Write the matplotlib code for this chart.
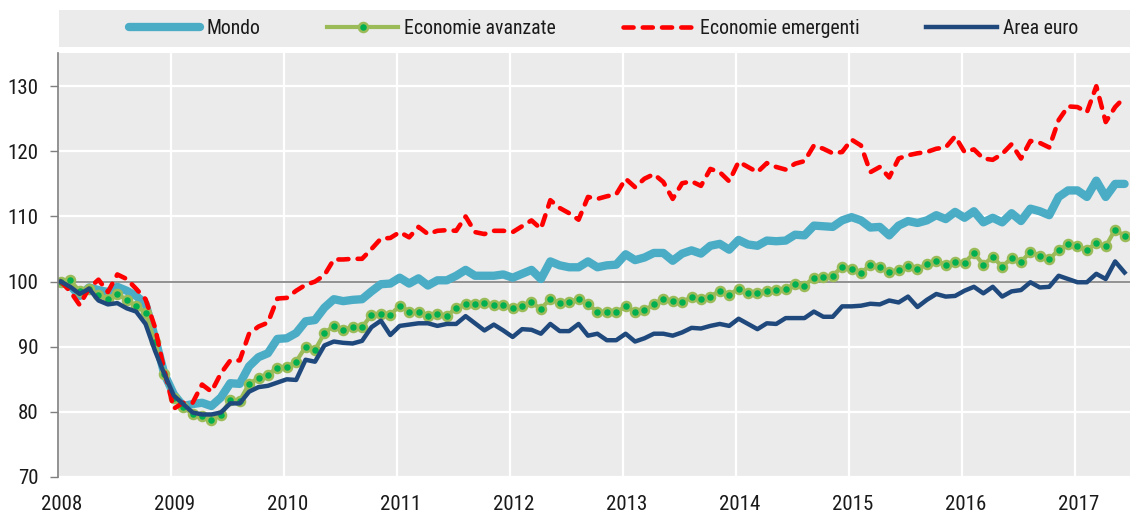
import os
import numpy as np
import matplotlib
matplotlib.use("Agg")
import matplotlib.pyplot as plt
from matplotlib.patches import Rectangle
import matplotlib.transforms as mtransforms
from matplotlib import font_manager as fm

# Monthly data, Jan 2008 - Jun 2017 (index, Jan 2008 = 100)
mondo = [
    100.0, 99.4, 97.8, 99.1, 98.7, 98.4, 99.2, 98.6, 97.8, 96.6, 91.4, 85.8,
    82.7, 80.9, 81.2, 81.4, 80.9, 82.2, 84.4, 84.3, 87.0, 88.4, 89.0, 91.2,
    91.3, 92.1, 93.9, 94.1, 96.0, 97.3, 97.0, 97.2, 97.3, 98.5, 99.6, 99.7,
    100.6, 99.7, 100.5, 99.4, 100.2, 100.2, 100.9, 101.8, 100.9, 100.9, 100.9, 101.1,
    100.6, 101.2, 101.8, 100.4, 103.1, 102.5, 102.2, 102.2, 103.1, 102.2, 102.5, 102.6,
    104.2, 103.3, 103.7, 104.4, 104.4, 103.2, 104.3, 104.8, 104.3, 105.5, 105.8, 104.9,
    106.4, 105.7, 105.5, 106.3, 106.2, 106.3, 107.2, 107.1, 108.6, 108.5, 108.4, 109.4,
    109.9, 109.4, 108.3, 108.4, 107.1, 108.6, 109.3, 109.0, 109.4, 110.2, 109.6, 110.7,
    109.8, 110.8, 109.1, 109.8, 109.1, 110.5, 109.3, 111.2, 110.8, 110.2, 113.0, 114.0,
    114.0, 113.0, 115.5, 113.0, 115.0, 115.0,
]
avanzate = [
    100.0, 100.2, 98.5, 98.9, 97.9, 97.4, 98.1, 97.2, 96.3, 95.2, 90.7, 85.8,
    82.2, 80.7, 79.7, 79.3, 78.8, 79.5, 81.8, 81.7, 84.3, 85.2, 85.7, 86.8,
    86.9, 87.7, 90.0, 89.5, 92.1, 93.2, 92.6, 93.0, 93.0, 94.9, 95.1, 94.9,
    96.3, 95.4, 95.4, 94.7, 95.1, 94.7, 96.0, 96.6, 96.6, 96.7, 96.4, 96.4,
    95.9, 96.2, 96.8, 95.8, 97.4, 96.7, 96.9, 97.3, 96.6, 95.3, 95.4, 95.3,
    96.2, 95.4, 95.6, 96.5, 97.4, 97.0, 96.9, 97.6, 97.3, 97.7, 98.6, 98.0,
    98.9, 98.2, 98.3, 98.6, 98.7, 98.9, 99.6, 99.4, 100.6, 100.7, 100.9, 102.3,
    102.0, 101.3, 102.6, 102.3, 101.4, 101.8, 102.4, 101.9, 102.7, 103.2, 102.6, 103.0,
    102.9, 104.4, 102.6, 103.8, 102.3, 103.6, 103.0, 104.6, 104.0, 103.4, 104.9, 105.7,
    105.5, 104.8, 106.0, 105.4, 108.0, 107.0,
]
emergenti = [
    100.0, 98.5, 96.4, 99.0, 100.3, 98.4, 101.1, 100.4, 98.9, 97.3, 93.0, 86.3,
    80.5, 81.4, 81.4, 84.2, 83.1, 85.9, 87.9, 87.9, 92.0, 93.1, 93.7, 97.4,
    97.5, 98.6, 99.5, 100.0, 101.0, 103.4, 103.4, 103.5, 103.5, 105.0, 106.6, 106.7,
    107.6, 106.8, 108.4, 107.3, 107.8, 107.9, 107.8, 110.0, 107.6, 107.3, 107.8, 107.8,
    107.6, 108.5, 109.4, 108.1, 112.5, 111.3, 110.5, 109.5, 113.0, 112.7, 113.1, 113.4,
    115.8, 114.5, 115.8, 116.5, 115.3, 112.7, 115.1, 115.4, 114.7, 117.3, 116.8, 115.4,
    118.4, 117.6, 116.8, 118.2, 117.6, 117.2, 118.1, 118.5, 120.9, 120.4, 119.7, 119.9,
    121.8, 120.9, 116.8, 117.6, 116.0, 118.9, 119.4, 119.7, 119.9, 120.4, 120.6, 122.3,
    119.9, 120.3, 118.9, 118.7, 119.6, 121.1, 118.9, 121.6, 121.3, 120.6, 124.8, 126.9,
    126.8, 126.0, 130.0, 124.5, 126.8, 128.3,
]
area_euro = [
    100.0, 99.2, 98.1, 98.9, 97.1, 96.5, 96.7, 95.9, 95.4, 93.5, 89.4, 85.8,
    82.5, 81.2, 79.9, 79.6, 79.6, 79.9, 81.3, 81.3, 83.1, 83.8, 84.0, 84.5,
    85.0, 84.9, 88.0, 87.7, 90.2, 90.8, 90.6, 90.5, 90.9, 93.0, 94.0, 91.8,
    93.2, 93.4, 93.6, 93.6, 93.2, 93.5, 93.5, 94.7, 93.6, 92.5, 93.4, 92.5,
    91.5, 92.7, 92.6, 92.0, 93.5, 92.4, 92.4, 93.5, 91.7, 92.0, 91.0, 91.0,
    92.0, 90.8, 91.3, 92.0, 92.0, 91.7, 92.2, 92.9, 92.8, 93.2, 93.5, 93.2,
    94.3, 93.5, 92.7, 93.6, 93.5, 94.4, 94.4, 94.4, 95.4, 94.6, 94.6, 96.2,
    96.2, 96.3, 96.6, 96.5, 97.1, 96.8, 97.7, 96.1, 97.2, 98.1, 97.7, 97.8,
    98.6, 99.2, 98.2, 99.2, 97.7, 98.5, 98.7, 99.9, 99.1, 99.2, 100.9, 100.4,
    99.9, 99.9, 101.2, 100.4, 103.1, 101.4,
]
labels = ["Mondo", "Economie avanzate", "Economie emergenti", "Area euro"]
year_ticks = list(range(2008, 2018))
y_ticks = [70, 80, 90, 100, 110, 120, 130]


def find_narrow_font():
    bad = ('bold', 'italic', 'oblique', 'light', 'thin', 'black', 'medium',
           'semibold', 'extrabold', 'heavy', 'semicondensed', 'extracondensed',
           'ultracondensed', 'mono')
    prefs = ['liberationsansnarrow-regular', 'arialn', 'robotocondensed-regular',
             'opensans_condensed', 'opensanscondensed', 'notosans-condensed',
             'dejavusanscondensed', 'condensed', 'narrow']
    cands = []
    for f in fm.fontManager.ttflist:
        b = os.path.basename(f.fname).lower()
        if 'narrow' in b or 'condensed' in b:
            if any(k in b for k in bad):
                continue
            cands.append(f.fname)
    for p in prefs:
        for c in cands:
            if p in os.path.basename(c).lower().replace(' ', ''):
                return c
    return None


narrow = find_narrow_font()
if narrow:
    FP = fm.FontProperties(fname=narrow, size=15)
    FPL = fm.FontProperties(fname=narrow, size=14.2)
else:
    FP = fm.FontProperties(family='Liberation Sans', size=13)
    FPL = fm.FontProperties(family='Liberation Sans', size=12.5)

n = len(mondo)
x = 2008 + (np.arange(n) + 0.3) / 12.0

W, H = 1130, 515
fig = plt.figure(figsize=(W / 100, H / 100), dpi=100)
fig.patch.set_facecolor('white')

ax_l, ax_r, ax_t, ax_b = 58, 1130, 53, 477
ax = fig.add_axes([ax_l / W, 1 - ax_b / H, (ax_r - ax_l) / W, (ax_b - ax_t) / H])
bg = '#EBEBEB'
ax.set_facecolor(bg)

ax.plot(x, mondo, color='#4BACC6', lw=6.0, solid_joinstyle='round',
        solid_capstyle='round', label=labels[0], zorder=3)
ax.plot(x, avanzate, color='#9BBB59', lw=3.0, marker='o', markersize=6.5,
        markerfacecolor='#00B050', markeredgecolor='#9BBB59', markeredgewidth=1.8,
        label=labels[1], zorder=4)
ax.plot(x, emergenti, color='#FF0000', lw=3.3, dashes=(2.2, 2.0),
        dash_capstyle='round', label=labels[2], zorder=5)
ax.plot(x, area_euro, color='#1F497D', lw=3.2, solid_joinstyle='round',
        label=labels[3], zorder=6)

ax.axhline(100, color='#7F7F7F', lw=1.2, zorder=2)

ax.set_xlim(2008, 2017.49)
ax.set_ylim(70, 135.1)
ax.set_xticks(year_ticks)
ax.set_xticklabels([str(y) for y in year_ticks])
ax.set_yticks(y_ticks)
ax.grid(True, color='white', lw=1.6, zorder=1)
ax.set_axisbelow(True)

for s in ['top', 'right', 'bottom']:
    ax.spines[s].set_visible(False)
ax.spines['left'].set_color('#7F7F7F')
ax.spines['left'].set_linewidth(1.2)
ax.spines['left'].set_zorder(7)

ax.tick_params(axis='y', length=6, width=1.0, color='#7F7F7F', pad=8,
               labelcolor='#1a1a1a')
ax.tick_params(axis='x', length=0, pad=13, labelcolor='#1a1a1a')
off = mtransforms.ScaledTranslation(4 / 100, 0, fig.dpi_scale_trans)
for lab in ax.get_xticklabels():
    lab.set_fontproperties(FP)
    lab.set_transform(lab.get_transform() + off)
for lab in ax.get_yticklabels():
    lab.set_fontproperties(FP)

# legend band
leg_top, leg_bot = 10, 47
fig.patches.append(Rectangle((59 / W, 1 - leg_bot / H), (1130 - 59) / W, (leg_bot - leg_top) / H,
                             transform=fig.transFigure, facecolor=bg, edgecolor='none', zorder=0))
handles, labs = ax.get_legend_handles_labels()
leg = fig.legend(handles, labs, loc='center', ncol=4,
                 bbox_to_anchor=(604 / W, 1 - 28.5 / H), frameon=False,
                 prop=FPL, handlelength=3.6, handletextpad=0.3,
                 columnspacing=3.4, markerscale=1.0)
for t in leg.get_texts():
    t.set_color('#1a1a1a')

fig.savefig('out.png', dpi=100, facecolor='white')
